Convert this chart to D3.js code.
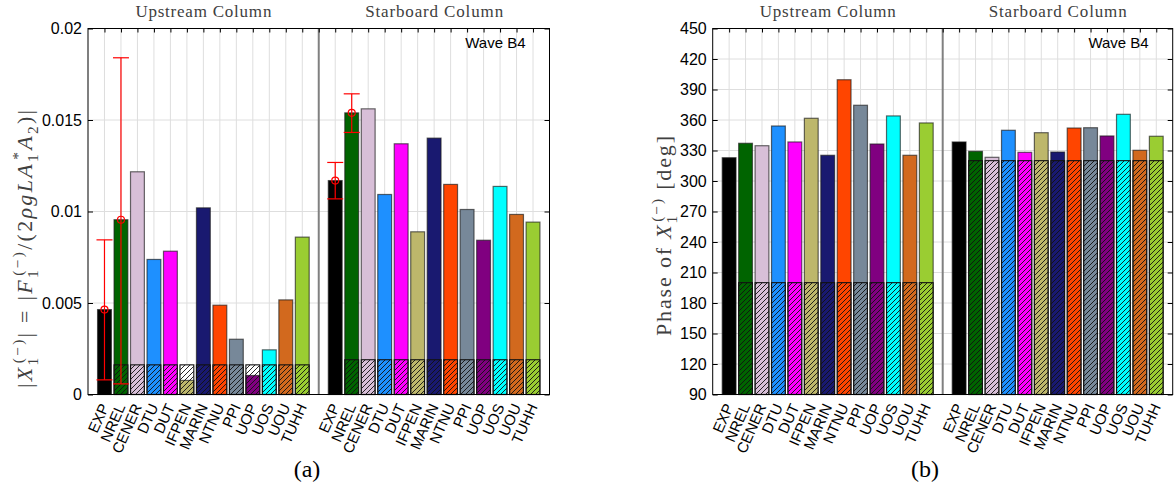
<!DOCTYPE html>
<html><head><meta charset="utf-8">
<script src="https://cdn.jsdelivr.net/npm/d3@7"></script>
<style>html,body{margin:0;padding:0;background:#fff;}svg{display:block;}</style>
</head><body>
<script>
// ---------- data ----------
const labels = ["EXP","NREL","CENER","DTU","DUT","IFPEN","MARIN","NTNU","PPI","UOP","UOS","UOU","TUHH"];
const colors = ["#000000","#006400","#D8BFD8","#1E90FF","#FF00FF","#BDB76B","#191970","#FF4500","#778899","#800080","#00FFFF","#D2691E","#9ACD32"];
const groups = ["Upstream Column","Starboard Column"];

const ampUp = [0.00464,0.00955,0.01217,0.00738,0.00783,0.00077,0.0102,0.00488,0.00302,0.00104,0.00244,0.00517,0.0086];
const ampSb = [0.01169,0.01539,0.01561,0.01093,0.0137,0.00889,0.01401,0.01148,0.01011,0.00843,0.01137,0.00984,0.00942];
const ampHatchUp = [null,0.00162,0.00162,0.00162,0.00162,0.00162,0.00162,0.00162,0.00162,0.00162,0.00162,0.00162,0.00162];
const ampHatchSb = [null,0.0019,0.0019,0.0019,0.0019,0.0019,0.0019,0.0019,0.0019,0.0019,0.0019,0.0019,0.0019];
const ampErrUp = [[0.0008,0.00464,0.00845],[0.00058,0.00955,0.0184]];   // EXP, NREL: [low, mid, high]
const ampErrSb = [[0.01069,0.01169,0.01268],[0.01432,0.01539,0.01643]];

const phaseUp = [322.9,337.1,334.7,354.1,338.4,361.7,325.3,399.6,374.5,336.4,364,325.3,357.1];
const phaseSb = [338.4,329.2,323.3,349.9,328.2,347.5,328.5,352.1,352.4,344.3,365.6,330.2,344];
const phaseHatchUp = [null,200,200,200,200,200,200,200,200,200,200,200,200];
const phaseHatchSb = [null,320,320,320,320,320,320,320,320,320,320,320,320];

const ampTicks = [0,0.005,0.01,0.015,0.02];
const phaseTicks = [90,120,150,180,210,240,270,300,330,360,390,420,450];

// ---------- drawing ----------
const W = 1175, H = 488;
const svg = d3.select("body").append("svg").attr("width", W).attr("height", H);
const defs = svg.append("defs");
const pat = defs.append("pattern").attr("id","hatch").attr("patternUnits","userSpaceOnUse")
  .attr("width",5).attr("height",5);
pat.append("path").attr("d","M-1,6 L6,-1 M-1,1 L1,-1 M4,6 L6,4").attr("stroke","#111").attr("stroke-width",0.9);

function mathText(t, segs, fs){
  let cur = 0;
  segs.forEach(s=>{
    const pos = s.p || "b";
    const target = pos==="sub" ? 0.28*fs : pos==="sup" ? -0.42*fs : 0;
    const ts = t.append("tspan").attr("dy", (target-cur).toFixed(2)).text(s.t);
    cur = target;
    if (pos!=="b") ts.attr("font-size", (fs*0.7).toFixed(1));
    if (s.i) ts.attr("font-style","italic");
    if (s.dx) ts.attr("dx", s.dx*fs);
  });
}

const SERIF = "Liberation Serif, Times New Roman, serif";
const SANS = "Liberation Sans, Arial, sans-serif";

function panel(opts){
  const {x0,x1,y0,y1,domain,ticks,up,sb,hUp,hSb,errUp,errSb,base,tickFmt,cap,capX} = opts;
  const g = svg.append("g");
  const x = d3.scaleLinear().domain([0,28]).range([x0,x1]);
  const y = d3.scaleLinear().domain(domain).range([y1,y0]);
  const bw = (x(1)-x(0))*0.84;
  const xs = d3.range(1,28).filter(d=>d!==14);

  // grid
  g.append("g").selectAll("line").data(xs).join("line")
    .attr("x1",d=>x(d)).attr("x2",d=>x(d)).attr("y1",y0).attr("y2",y1)
    .attr("stroke","#dedede").attr("stroke-width",1);
  g.append("g").selectAll("line").data(ticks.slice(1,-1)).join("line")
    .attr("x1",x0).attr("x2",x1).attr("y1",d=>y(d)).attr("y2",d=>y(d))
    .attr("stroke","#dedede").attr("stroke-width",1);

  // separator
  g.append("line").attr("x1",x(14)).attr("x2",x(14)).attr("y1",y0).attr("y2",y1)
    .attr("stroke","#808080").attr("stroke-width",2);

  const sets = [{vals:up,h:hUp,off:0},{vals:sb,h:hSb,off:14}];
  sets.forEach(S=>{
    const data = S.vals.map((v,i)=>({v,i,h:S.h[i],pos:S.off+1+i}));
    g.append("g").selectAll("rect").data(data.filter(d=>d.h!=null)).join("rect")
      .attr("x",d=>x(d.pos)-bw/2).attr("width",bw)
      .attr("y",d=>y(d.h)).attr("height",d=>y(base)-y(d.h)).attr("fill","#fff");
    g.append("g").selectAll("rect").data(data).join("rect")
      .attr("x",d=>x(d.pos)-bw/2).attr("width",bw)
      .attr("y",d=>y(d.v)).attr("height",d=>y(base)-y(d.v))
      .attr("fill",d=>colors[d.i]).attr("stroke","#1a1a1a").attr("stroke-opacity",0.65).attr("stroke-width",1.2);
    g.append("g").selectAll("rect").data(data.filter(d=>d.h!=null)).join("rect")
      .attr("x",d=>x(d.pos)-bw/2).attr("width",bw)
      .attr("y",d=>y(d.h)).attr("height",d=>y(base)-y(d.h))
      .attr("fill","url(#hatch)").attr("stroke","#111").attr("stroke-width",1.1);
  });

  // error bars
  [{e:errUp,off:0},{e:errSb,off:14}].forEach(E=>{
    if(!E.e) return;
    E.e.forEach((r,i)=>{
      const cx = x(E.off+1+i);
      const eg = g.append("g").attr("stroke","#ff0000").attr("stroke-width",1.2).attr("fill","none");
      eg.append("line").attr("x1",cx).attr("x2",cx).attr("y1",y(r[0])).attr("y2",y(r[2]));
      eg.append("line").attr("x1",cx-8).attr("x2",cx+8).attr("y1",y(r[0])).attr("y2",y(r[0]));
      eg.append("line").attr("x1",cx-8).attr("x2",cx+8).attr("y1",y(r[2])).attr("y2",y(r[2]));
      eg.append("circle").attr("cx",cx).attr("cy",y(r[1])).attr("r",3.5);
    });
  });

  // axes
  const ax = g.append("g");
  const la = ax.append("g").attr("transform",`translate(${x0},0)`)
    .call(d3.axisLeft(y).tickValues(ticks).tickSize(-5).tickPadding(6).tickFormat(tickFmt));
  const ra = ax.append("g").attr("transform",`translate(${x1},0)`)
    .call(d3.axisRight(y).tickValues(ticks).tickSize(-5).tickFormat(""));
  const ta = ax.append("g").attr("transform",`translate(0,${y0})`)
    .call(d3.axisTop(x).tickValues(d3.range(1,28)).tickSize(-4).tickFormat(""));
  [la,ra,ta].forEach(a=>{a.select(".domain").remove(); a.selectAll("line").attr("stroke","#000");});
  la.selectAll("text").attr("font-size",16).attr("fill","#000").attr("font-family",SANS);
  g.append("rect").attr("x",x0).attr("y",y0).attr("width",x1-x0).attr("height",y1-y0)
    .attr("fill","none").attr("stroke","#000").attr("stroke-width",1);

  // x labels
  const xl = g.append("g").attr("font-family",SANS).attr("font-size",15).attr("fill","#000");
  [0,14].forEach(off=>{
    labels.forEach((l,i)=>{
      const px = x(off+1+i), py = y1+10;
      xl.append("text").attr("transform",`translate(${px},${py}) rotate(-66)`)
        .attr("text-anchor","end").attr("dy","0.35em").text(l);
    });
  });

  // group titles
  const gt = g.append("g").attr("font-family",SERIF).attr("font-size",17).attr("fill","#404040").attr("text-anchor","middle");
  gt.append("text").attr("x",(x(0)+x(14))/2).attr("y",17).attr("textLength",136).attr("lengthAdjust","spacing").text(groups[0]);
  gt.append("text").attr("x",(x(14)+x(28))/2).attr("y",17).attr("textLength",138).attr("lengthAdjust","spacing").text(groups[1]);

  // wave label
  g.append("text").attr("x",x1-24).attr("y",48).attr("text-anchor","end")
    .attr("font-family",SANS).attr("font-size",15).attr("fill","#000").text("Wave B4");

  // caption
  g.append("text").attr("x",capX).attr("y",477).attr("text-anchor","middle")
    .attr("font-family",SERIF).attr("font-size",24).attr("fill","#000").text(cap);
  return g;
}

panel({x0:88,x1:549.5,y0:28.5,y1:394.5,domain:[0,0.02],ticks:ampTicks,up:ampUp,sb:ampSb,
  hUp:ampHatchUp,hSb:ampHatchSb,errUp:ampErrUp,errSb:ampErrSb,base:0,tickFmt:d=>String(d),cap:"(a)",capX:307});
panel({x0:712.7,x1:1172.7,y0:28.5,y1:394.5,domain:[90,450],ticks:phaseTicks,up:phaseUp,sb:phaseSb,
  hUp:phaseHatchUp,hSb:phaseHatchSb,errUp:null,errSb:null,base:90,tickFmt:d=>String(d),cap:"(b)",capX:925});

// y labels
const fs1 = 22;
const t1 = svg.append("text").attr("transform","translate(32,249) rotate(-90)").attr("text-anchor","middle")
  .attr("font-family",SERIF).attr("font-size",fs1).attr("fill","#404040")
  .attr("textLength",278).attr("lengthAdjust","spacing");
mathText(t1,[
  {t:"|"},{t:"X",i:1},{t:"1",p:"sub"},{t:"(−)",p:"sup",dx:-0.35},{t:"| = |"},
  {t:"F",i:1},{t:"1",p:"sub"},{t:"(−)",p:"sup",dx:-0.35},{t:"/(2"},{t:"ρgLA",i:1},
  {t:"1",p:"sub"},{t:"*",p:"sup",dx:-0.35},{t:"A",i:1},{t:"2",p:"sub"},{t:")|"}
],fs1);

const fs2 = 22;
const t2 = svg.append("text").attr("transform","translate(671,236) rotate(-90)").attr("text-anchor","middle")
  .attr("font-family",SERIF).attr("font-size",fs2).attr("fill","#404040")
  .attr("textLength",200).attr("lengthAdjust","spacing");
mathText(t2,[{t:"Phase of "},{t:"X",i:1},{t:"1",p:"sub"},{t:"(−)",p:"sup",dx:-0.35},{t:" [deg]"}],fs2);
</script>
</body></html>
